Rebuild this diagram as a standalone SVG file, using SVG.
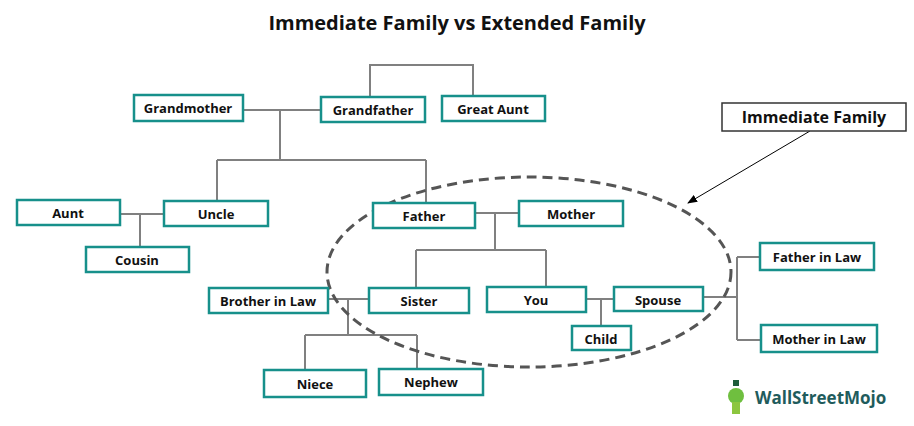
<svg xmlns="http://www.w3.org/2000/svg" width="914" height="426" viewBox="0 0 914 426">
<defs>
<style>
.n rect{fill:#fff;stroke:#17908b;stroke-width:2.5}
.n text{font-family:"Open Sans","Liberation Sans",sans-serif;font-weight:bold;font-size:13px;fill:#111;text-anchor:middle}
.c path{fill:none;stroke:#808080;stroke-width:2}
</style>
<marker id="ah" markerWidth="10" markerHeight="8" refX="9" refY="4" orient="auto" markerUnits="userSpaceOnUse"><path d="M0,0 L10,4 L0,8 z" fill="#000"/></marker>
</defs>
<rect width="914" height="426" fill="#fff"/>
<text x="457" y="30" font-family="'Open Sans','Liberation Sans',sans-serif" font-weight="bold" font-size="20" text-anchor="middle" fill="#111">Immediate Family vs Extended Family</text>
<g class="c">
<path d="M370,97 V65 H473 V96"/>
<path d="M243,110 H321 M280,110 V160 M217,160 H426 M217,160 V201 M426,160 V203"/>
<path d="M120,214 H164 M140,214 V247"/>
<path d="M475,213 H519 M495,213 V250 M416,250 H546 M416,250 V288 M546,250 V287"/>
<path d="M328,299 H369 M348,299 V335 M305,335 H417 M305,335 V370 M417,335 V369"/>
<path d="M586,299 H614 M601,299 V326"/>
<path d="M703,297 H737 M737,257 V340 M737,257 H760 M737,340 H761"/>
<path d="M810,131 L688,203" style="stroke:#000;stroke-width:1" marker-end="url(#ah)"/>
</g>
<ellipse cx="529" cy="272" rx="202" ry="95" fill="none" stroke="#555" stroke-width="3" stroke-dasharray="10,6"/>
<g id="immediate" class="n"><rect x="722" y="103" width="184" height="28" style="stroke:#333;stroke-width:1.5"/><text x="814" y="123" style="font-size:16px">Immediate Family</text></g>
<g id="grandmother" class="n"><rect x="134" y="95" width="109" height="26"/><text x="188" y="113">Grandmother</text></g>
<g id="grandfather" class="n"><rect x="321" y="97" width="104" height="25"/><text x="373" y="115">Grandfather</text></g>
<g id="greataunt" class="n"><rect x="442" y="96" width="103" height="25"/><text x="493" y="114">Great Aunt</text></g>
<g id="aunt" class="n"><rect x="17" y="200" width="103" height="25"/><text x="68" y="218">Aunt</text></g>
<g id="uncle" class="n"><rect x="164" y="201" width="104" height="25"/><text x="216" y="219">Uncle</text></g>
<g id="cousin" class="n"><rect x="86" y="247" width="103" height="25"/><text x="137" y="265">Cousin</text></g>
<g id="father" class="n"><rect x="373" y="203" width="102" height="25"/><text x="424" y="221">Father</text></g>
<g id="mother" class="n"><rect x="519" y="201" width="104" height="25"/><text x="571" y="219">Mother</text></g>
<g id="brotherinlaw" class="n"><rect x="209" y="288" width="119" height="25"/><text x="268" y="306">Brother in Law</text></g>
<g id="sister" class="n"><rect x="369" y="288" width="100" height="25"/><text x="419" y="306">Sister</text></g>
<g id="you" class="n"><rect x="487" y="287" width="99" height="25"/><text x="536" y="305">You</text></g>
<g id="spouse" class="n"><rect x="614" y="287" width="89" height="24"/><text x="658" y="305">Spouse</text></g>
<g id="child" class="n"><rect x="572" y="326" width="59" height="24"/><text x="601" y="344">Child</text></g>
<g id="fatherinlaw" class="n"><rect x="760" y="243" width="114" height="27"/><text x="817" y="262">Father in Law</text></g>
<g id="motherinlaw" class="n"><rect x="761" y="325" width="116" height="27"/><text x="819" y="344">Mother in Law</text></g>
<g id="niece" class="n"><rect x="264" y="370" width="102" height="27"/><text x="315" y="389">Niece</text></g>
<g id="nephew" class="n"><rect x="379" y="369" width="104" height="26"/><text x="431" y="387">Nephew</text></g>
<g id="logo">
<rect x="733" y="380" width="6" height="6" fill="#1d5c3a"/>
<circle cx="736" cy="396" r="8" fill="#6fbf3f"/>
<rect x="732" y="402" width="8" height="12" fill="#8cc63f"/>
<text x="755" y="404" font-family="'Open Sans','Liberation Sans',sans-serif" font-weight="bold" font-size="17" fill="#1f5c5c">WallStreetMojo</text>
</g>
</svg>
